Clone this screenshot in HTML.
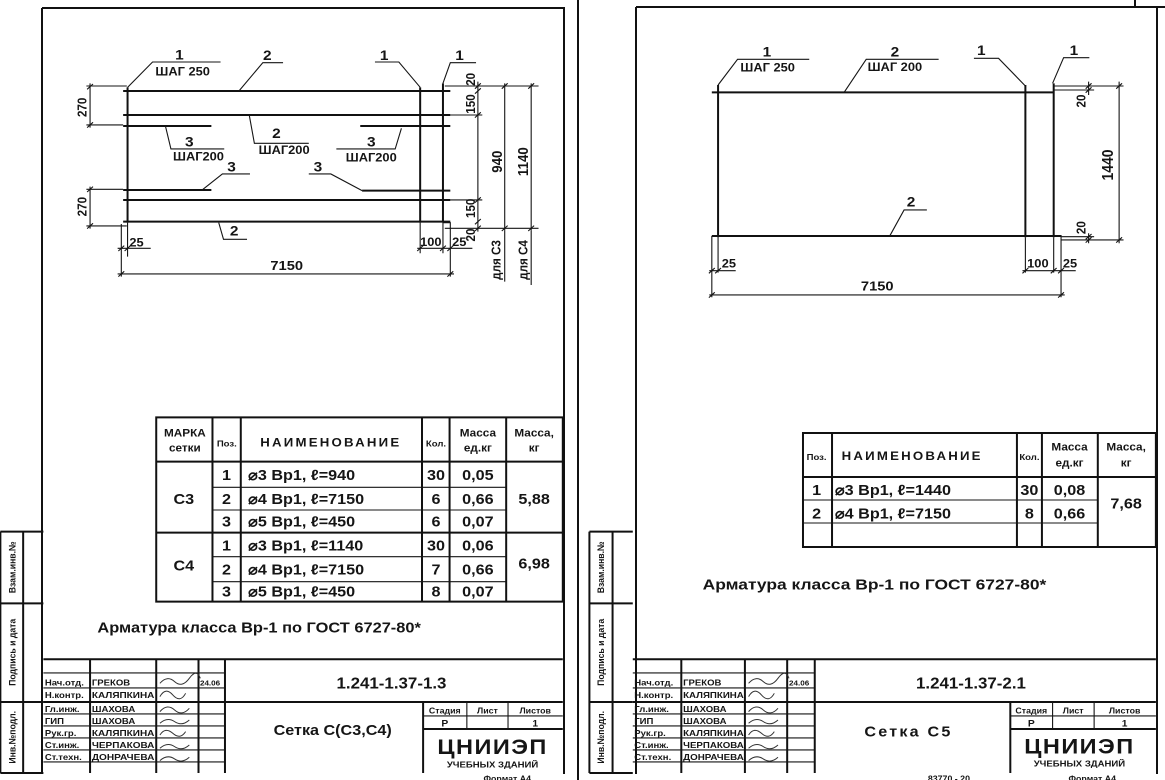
<!DOCTYPE html>
<html><head><meta charset="utf-8"><style>
html,body{margin:0;padding:0;background:#fff}
svg{display:block}
.l{stroke:#151515;fill:none;stroke-width:1.1;vector-effect:non-scaling-stroke}
.b{stroke:#111;fill:none;stroke-width:2;vector-effect:non-scaling-stroke}
.f{stroke:#111;fill:none;stroke-width:2}
text{font-family:"Liberation Sans",sans-serif;font-weight:bold;fill:#151515}
.m{text-anchor:middle}
.s{stroke:#333;fill:none;stroke-width:1;vector-effect:non-scaling-stroke}
</style></head><body>
<svg width="1165" height="780" viewBox="0 0 1165 780" xmlns="http://www.w3.org/2000/svg">
<rect width="1165" height="780" fill="#fff"/>
<path class="f" d="M42 8 H564 V774 M42 8 V774"/>
<path class="f" d="M578 0 V780"/>
<path class="f" d="M636 7 H1165 M1157 8 V774 M636 7 V774 M1135 0 V8"/>

<g transform="scale(0.3676 0.3333)">
<path class="b" d="M335 273 H1225 M335 345 H1225 M335 378 H575 M980 378 H1225 M335 570 H575 M985 572 H1225 M335 600 H1225 M335 665 H1225"/>
<path class="b" d="M347 262 V668 M1143 262 V668 M1205 250 V668"/>
<path class="l" d="M1143 668 V760 M1205 668 V760 M1205 668 H1225 V830 M330 672 V830 M347 668 V770"/>
<path class="l" d="M235 258 H345 M235 375 H335 M245 250 V383 M235 568 H335 M235 678 H345 M245 560 V686"/>
<path class="l" d="M237 268 l16 -16 M237 383 l16 -16 M237 576 l16 -16 M237 686 l16 -16"/>
<path class="l" d="M1210 258 H1465 M1225 345 H1312 M1225 600 H1312 M1210 685 H1465 M1300 245 V695 M1373 250 V692 M1445 250 V692"/>
<path class="l" d="M1292 266 l16 -16 M1292 281 l16 -16 M1292 353 l16 -16 M1292 608 l16 -16 M1292 673 l16 -16 M1292 693 l16 -16 M1365 266 l16 -16 M1365 693 l16 -16 M1437 266 l16 -16 M1437 693 l16 -16"/>
<path class="l" d="M1373 692 V845 M1445 692 V855"/>
<path class="l" d="M320 745 H410 M322 753 l16 -16 M339 753 l16 -16 M1135 745 H1285 M1135 753 l16 -16 M1197 753 l16 -16 M1217 753 l16 -16 M320 822 H1235 M322 830 l16 -16 M1217 830 l16 -16"/>
<path class="l" d="M347 262 L415 186 H600 M650 273 L715 188 H770 M1020 186 H1085 L1143 262 M1205 250 L1225 188 H1295 M450 378 L465 447 H610 M678 345 L692 430 H840 M1092 385 L1075 447 H915 M550 570 L605 522 H680 M840 522 H900 L985 572 M595 668 L608 718 H672"/>
<g font-size="42">
<text class="m" x="488" y="178">1</text>
<text class="m" x="727" y="180">2</text>
<text class="m" x="1045" y="180">1</text>
<text class="m" x="1250" y="180">1</text>
<text class="m" x="515" y="440">3</text>
<text class="m" x="752" y="414">2</text>
<text class="m" x="1010" y="440">3</text>
<text class="m" x="630" y="514">3</text>
<text class="m" x="865" y="514">3</text>
<text class="m" x="637" y="707">2</text>
</g>
<g font-size="35">
<text class="m" x="497" y="226">ШАГ 250</text>
<text class="m" x="540" y="482">ШАГ200</text>
<text class="m" x="773" y="462">ШАГ200</text>
<text class="m" x="1010" y="485">ШАГ200</text>
<text x="352" y="740">25</text>
<text class="m" x="1172" y="738">100</text>
<text x="1230" y="738">25</text>
<text class="m" x="780" y="810" font-size="40">7150</text>
<text class="m" transform="translate(235 322) rotate(-90)">270</text>
<text class="m" transform="translate(235 620) rotate(-90)">270</text>
<text class="m" transform="translate(1292 238) rotate(-90)">20</text>
<text class="m" transform="translate(1292 312) rotate(-90)">150</text>
<text class="m" transform="translate(1292 625) rotate(-90)">150</text>
<text class="m" transform="translate(1292 705) rotate(-90)">20</text>
<text class="m" transform="translate(1365 485) rotate(-90)" font-size="40">940</text>
<text class="m" transform="translate(1437 485) rotate(-90)" font-size="40">1140</text>
<text class="m" transform="translate(1362 780) rotate(-90)">для С3</text>
<text class="m" transform="translate(1435 780) rotate(-90)">для С4</text>
</g>
</g>

<g transform="translate(0 400) scale(0.3676 0.3333)">
<path class="b" d="M425 52 H1531 V605 H425 Z M578 52 V605 M655 52 V605 M1148 52 V605 M1223 52 V605 M1377 52 V605 M425 185 H1531 M425 398 H1531"/>
<path class="l" d="M578 262 H1377 M578 330 H1377 M578 470 H1377 M578 545 H1377"/>
<g font-size="32">
<text class="m" x="503" y="110">МАРКА</text>
<text class="m" x="503" y="155">сетки</text>
<text class="m" x="617" y="140" font-size="26">Поз.</text>
<text class="m" x="900" y="140" font-size="36" letter-spacing="6">НАИМЕНОВАНИЕ</text>
<text class="m" x="1186" y="140" font-size="26">Кол.</text>
<text class="m" x="1300" y="110">Масса</text>
<text class="m" x="1300" y="155">ед.кг</text>
<text class="m" x="1453" y="110">Масса,</text>
<text class="m" x="1453" y="155">кг</text>
</g>
<g font-size="44">
<text class="m" x="500" y="312">С3</text>
<text class="m" x="500" y="512">С4</text>
<text class="m" x="616" y="240">1</text><text class="m" x="616" y="312">2</text><text class="m" x="616" y="380">3</text>
<text class="m" x="616" y="452">1</text><text class="m" x="616" y="524">2</text><text class="m" x="616" y="590">3</text>
<text x="675" y="240">⌀3 Вр1, ℓ=940</text>
<text x="675" y="312">⌀4 Вр1, ℓ=7150</text>
<text x="675" y="380">⌀5 Вр1, ℓ=450</text>
<text x="675" y="452">⌀3 Вр1, ℓ=1140</text>
<text x="675" y="524">⌀4 Вр1, ℓ=7150</text>
<text x="675" y="590">⌀5 Вр1, ℓ=450</text>
<text class="m" x="1186" y="240">30</text><text class="m" x="1186" y="312">6</text><text class="m" x="1186" y="380">6</text>
<text class="m" x="1186" y="452">30</text><text class="m" x="1186" y="524">7</text><text class="m" x="1186" y="590">8</text>
<text class="m" x="1300" y="240">0,05</text><text class="m" x="1300" y="312">0,66</text><text class="m" x="1300" y="380">0,07</text>
<text class="m" x="1300" y="452">0,06</text><text class="m" x="1300" y="524">0,66</text><text class="m" x="1300" y="590">0,07</text>
<text class="m" x="1453" y="312">5,88</text>
<text class="m" x="1453" y="505">6,98</text>
</g>
<text x="265" y="698" font-size="44" textLength="880" lengthAdjust="spacingAndGlyphs">Арматура класса Вр-1 по ГОСТ 6727-80*</text>
<path class="b" d="M118 778 H1531 M245 778 V1119 M425 778 V1119 M540 778 V1119 M612 778 V1119 M612 906 H1531 M118 906 H612 M1151 906 V1119 M1151 987 H1531"/>
<path class="l" d="M118 819 H612 M118 864 H612 M118 942 H612 M118 978 H612 M118 1014 H612 M118 1050 H612 M118 1086 H612 M1151 948 H1531 M1270 906 V987 M1382 906 V987"/>
<g font-size="26">
<text x="122" y="856">Нач.отд.</text><text x="250" y="856">ГРЕКОВ</text><text x="544" y="856" font-size="22">24.06</text>
<text x="122" y="894">Н.контр.</text><text x="250" y="894" textLength="170" lengthAdjust="spacingAndGlyphs">КАЛЯПКИНА</text>
<text x="122" y="936">Гл.инж.</text><text x="250" y="936">ШАХОВА</text>
<text x="122" y="972">ГИП</text><text x="250" y="972">ШАХОВА</text>
<text x="122" y="1008">Рук.гр.</text><text x="250" y="1008" textLength="170" lengthAdjust="spacingAndGlyphs">КАЛЯПКИНА</text>
<text x="122" y="1044">Ст.инж.</text><text x="250" y="1044" textLength="170" lengthAdjust="spacingAndGlyphs">ЧЕРПАКОВА</text>
<text x="122" y="1080">Ст.техн.</text><text x="250" y="1080" textLength="170" lengthAdjust="spacingAndGlyphs">ДОНРАЧЕВА</text>
</g>
<path class="s" d="M435 850 q20 -25 40 -5 t40 -10 t30 0 M435 890 q15 -30 35 -5 t35 -5 M435 935 q20 -25 40 -5 t40 -5 M435 970 q20 -20 40 -5 t40 -5 M435 1005 q15 -25 35 -5 t35 -5 M435 1045 q20 -20 40 -5 t40 -5 M435 1082 q20 -20 40 -5 t40 -5"/>
<text class="m" x="1065" y="865" font-size="46">1.241-1.37-1.3</text>
<text class="m" x="905" y="1005" font-size="44">Сетка С(С3,С4)</text>
<text class="m" x="1210" y="940" font-size="24">Стадия</text>
<text class="m" x="1326" y="940" font-size="24">Лист</text>
<text class="m" x="1456" y="940" font-size="24">Листов</text>
<text class="m" x="1210" y="980" font-size="28">Р</text>
<text class="m" x="1456" y="980" font-size="28">1</text>
<text class="m" x="1340" y="1062" font-size="64" font-weight="normal" letter-spacing="4">ЦНИИЭП</text>
<text class="m" x="1340" y="1102" font-size="26">УЧЕБНЫХ ЗДАНИЙ</text>
<text class="m" x="1380" y="1145" font-size="24">Формат А4</text>
<path class="b" d="M1 395 H118 M1 610 H118 M1 906 H118 M1 1119 H118 M1 395 V1119 M63 395 V1119"/>
<g font-size="26">
<text class="m" transform="translate(42 502) rotate(-90)">Взам.инв.№</text>
<text class="m" transform="translate(42 757) rotate(-90)">Подпись и дата</text>
<text class="m" transform="translate(42 1012) rotate(-90)">Инв.№подл.</text>
</g>
</g>

<g transform="translate(585 0) scale(0.3676 0.3333)">
<path class="b" d="M345 277 H1275 M345 708 H1295 M362 255 V712 M1198 255 V712 M1275 250 V712"/>
<path class="l" d="M1275 258 H1465 M1275 270 H1385 M1295 720 H1465 M1295 710 H1385 M1370 245 V285 M1370 700 V730 M1453 245 V730 M1362 266 l16 -16 M1362 278 l16 -16 M1362 718 l16 -16 M1362 728 l16 -16 M1445 266 l16 -16 M1445 728 l16 -16"/>
<path class="l" d="M345 708 V892 M362 712 V818 M1198 712 V818 M1275 712 V818 M1295 705 V892 M338 812 H410 M1190 812 H1335 M338 885 H1305 M337 820 l16 -16 M354 820 l16 -16 M1190 820 l16 -16 M1267 820 l16 -16 M1287 820 l16 -16 M337 893 l16 -16 M1287 893 l16 -16"/>
<path class="l" d="M362 255 L415 178 H610 M705 277 L765 178 H962 M1058 175 H1125 L1198 258 M1272 250 L1302 173 H1372 M830 706 L868 630 H930"/>
<g font-size="42">
<text class="m" x="495" y="170">1</text>
<text class="m" x="843" y="170">2</text>
<text class="m" x="1078" y="165">1</text>
<text class="m" x="1330" y="165">1</text>
<text class="m" x="887" y="620">2</text>
</g>
<g font-size="35">
<text class="m" x="497" y="215">ШАГ 250</text>
<text class="m" x="843" y="213">ШАГ 200</text>
<text x="372" y="802">25</text>
<text class="m" x="1232" y="802">100</text>
<text x="1300" y="802">25</text>
<text class="m" x="795" y="872" font-size="40">7150</text>
<text class="m" transform="translate(1362 303) rotate(-90)">20</text>
<text class="m" transform="translate(1362 683) rotate(-90)">20</text>
<text class="m" transform="translate(1437 495) rotate(-90)" font-size="42">1440</text>
</g>
</g>

<g transform="translate(585 400) scale(0.3676 0.3333)">
<path class="b" d="M593 99 H1553 V441 H593 Z M672 99 V441 M1175 99 V441 M1243 99 V441 M1395 99 V441 M593 231 H1553"/>
<path class="l" d="M593 300 H1395 M593 369 H1395"/>
<text class="m" x="630" y="180" font-size="26">Поз.</text>
<text class="m" x="890" y="180" font-size="36" letter-spacing="6">НАИМЕНОВАНИЕ</text>
<text class="m" x="1209" y="180" font-size="26">Кол.</text>
<g font-size="32">
<text class="m" x="1318" y="152">Масса</text>
<text class="m" x="1318" y="200">ед.кг</text>
<text class="m" x="1472" y="152">Масса,</text>
<text class="m" x="1472" y="200">кг</text>
</g>
<g font-size="44">
<text class="m" x="630" y="285">1</text><text class="m" x="630" y="355">2</text>
<text x="680" y="285">⌀3 Вр1, ℓ=1440</text>
<text x="680" y="355">⌀4 Вр1, ℓ=7150</text>
<text class="m" x="1209" y="285">30</text><text class="m" x="1209" y="355">8</text>
<text class="m" x="1318" y="285">0,08</text><text class="m" x="1318" y="355">0,66</text>
<text class="m" x="1472" y="325">7,68</text>
</g>
<text x="320" y="568" font-size="44" textLength="935" lengthAdjust="spacingAndGlyphs">Арматура класса Вр-1 по ГОСТ 6727-80*</text>
<path class="b" d="M130 778 H1553 M262 778 V1119 M435 778 V1119 M550 778 V1119 M625 778 V1119 M625 906 H1553 M130 906 H625 M1157 906 V1119 M1157 987 H1553"/>
<path class="l" d="M130 819 H625 M130 864 H625 M130 942 H625 M130 978 H625 M130 1014 H625 M130 1050 H625 M130 1086 H625 M1157 948 H1553 M1272 906 V987 M1385 906 V987"/>
<g font-size="26">
<text x="134" y="856">Нач.отд.</text><text x="267" y="856">ГРЕКОВ</text><text x="555" y="856" font-size="22">24.06</text>
<text x="134" y="894">Н.контр.</text><text x="267" y="894" textLength="165" lengthAdjust="spacingAndGlyphs">КАЛЯПКИНА</text>
<text x="134" y="936">Гл.инж.</text><text x="267" y="936">ШАХОВА</text>
<text x="134" y="972">ГИП</text><text x="267" y="972">ШАХОВА</text>
<text x="134" y="1008">Рук.гр.</text><text x="267" y="1008" textLength="165" lengthAdjust="spacingAndGlyphs">КАЛЯПКИНА</text>
<text x="134" y="1044">Ст.инж.</text><text x="267" y="1044" textLength="165" lengthAdjust="spacingAndGlyphs">ЧЕРПАКОВА</text>
<text x="134" y="1080">Ст.техн.</text><text x="267" y="1080" textLength="165" lengthAdjust="spacingAndGlyphs">ДОНРАЧЕВА</text>
</g>
<path class="s" d="M445 850 q20 -25 40 -5 t40 -10 t30 0 M445 890 q15 -30 35 -5 t35 -5 M445 935 q20 -25 40 -5 t40 -5 M445 970 q20 -20 40 -5 t40 -5 M445 1005 q15 -25 35 -5 t35 -5 M445 1045 q20 -20 40 -5 t40 -5 M445 1082 q20 -20 40 -5 t40 -5"/>
<text class="m" x="1050" y="865" font-size="46">1.241-1.37-2.1</text>
<text class="m" x="880" y="1010" font-size="44" letter-spacing="6">Сетка С5</text>
<text class="m" x="1214" y="940" font-size="24">Стадия</text>
<text class="m" x="1328" y="940" font-size="24">Лист</text>
<text class="m" x="1468" y="940" font-size="24">Листов</text>
<text class="m" x="1214" y="980" font-size="28">Р</text>
<text class="m" x="1468" y="980" font-size="28">1</text>
<text class="m" x="1345" y="1060" font-size="64" font-weight="normal" letter-spacing="4">ЦНИИЭП</text>
<text class="m" x="1345" y="1100" font-size="26">УЧЕБНЫХ ЗДАНИЙ</text>
<text class="m" x="1380" y="1145" font-size="24">Формат А4</text>
<text class="m" x="990" y="1145" font-size="24" font-weight="normal">83770 - 20</text>
<path class="b" d="M12 395 H130 M12 610 H130 M12 906 H130 M12 1119 H130 M12 395 V1119 M75 395 V1119"/>
<g font-size="26">
<text class="m" transform="translate(52 502) rotate(-90)">Взам.инв.№</text>
<text class="m" transform="translate(52 757) rotate(-90)">Подпись и дата</text>
<text class="m" transform="translate(52 1012) rotate(-90)">Инв.№подл.</text>
</g>
</g>
</svg>
</body></html>
